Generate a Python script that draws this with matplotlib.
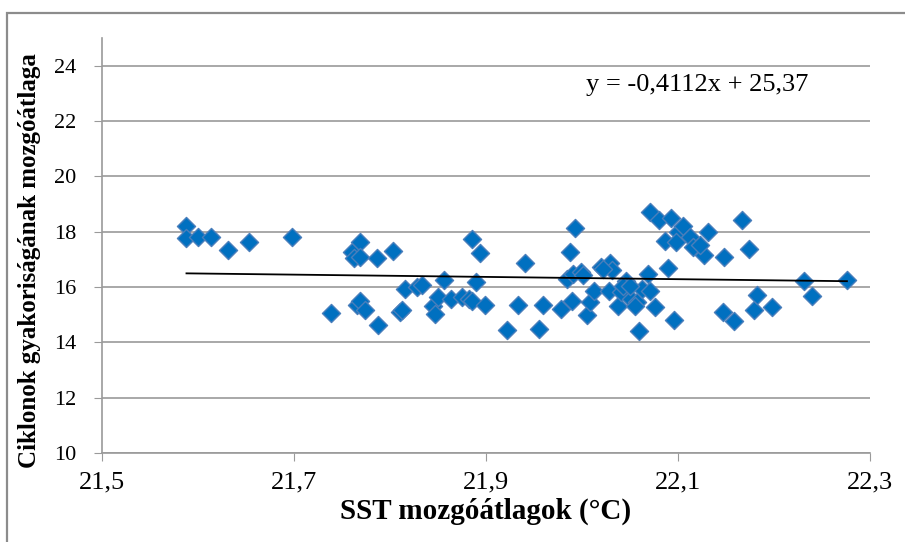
import matplotlib.pyplot as plt
from matplotlib.patches import Rectangle
from matplotlib.ticker import FuncFormatter

# SST moving averages (°C) and cyclone frequency moving averages
sst = [
    21.588, 21.588, 21.600, 21.614, 21.631, 21.653, 21.698, 21.739, 21.760, 21.762,
    21.769, 21.769, 21.786, 21.803, 21.766, 21.769, 21.774, 21.787, 21.810, 21.812,
    21.816, 21.828, 21.833, 21.845, 21.847, 21.850, 21.856, 21.864, 21.875, 21.882,
    21.885, 21.885, 21.894, 21.890, 21.899, 21.922, 21.933, 21.941, 21.955, 21.959,
    21.978, 21.993, 21.988, 21.984, 21.991, 21.999, 21.990, 22.005, 22.008, 22.012,
    22.020, 22.029, 22.031, 22.028, 22.038, 22.041, 22.046, 22.051, 22.057, 22.062,
    22.069, 22.071, 22.076, 22.059, 22.090, 22.096, 22.071, 22.080, 22.093, 22.086,
    22.100, 22.105, 22.098, 22.113, 22.116, 22.127, 22.123, 22.131, 22.148, 22.167,
    22.174, 22.147, 22.158, 22.179, 22.182, 22.198, 22.231, 22.240, 22.276, 22.043,
    22.050, 22.055, 22.001, 22.022,
]
cyclones = [
    18.21, 17.78, 17.81, 17.81, 17.35, 17.63, 17.81, 15.06, 17.26, 17.04,
    17.64, 17.08, 17.04, 17.31, 15.35, 15.50, 15.16, 14.64, 15.08, 15.18,
    15.93, 15.99, 16.09, 15.33, 15.04, 15.63, 16.24, 15.56, 15.63, 15.56,
    15.50, 17.72, 17.24, 16.17, 15.36, 14.46, 15.35, 16.86, 14.50, 15.35,
    15.20, 18.13, 17.27, 16.29, 16.47, 16.53, 15.50, 14.98, 15.44, 15.87,
    16.72, 16.86, 16.60, 15.87, 15.33, 15.81, 16.23, 15.56, 15.44, 15.93,
    16.47, 15.87, 15.26, 14.41, 16.70, 14.82, 18.72, 18.41, 18.50, 17.68,
    17.99, 18.22, 17.64, 17.81, 17.44, 17.17, 17.50, 17.99, 17.09, 18.41,
    17.36, 15.08, 14.78, 15.17, 15.72, 15.26, 16.23, 15.69, 16.25, 16.05,
    16.03, 15.33, 16.44, 16.65,
]

# linear trendline coefficients
slope = -0.4112
intercept = 25.37

x_ticks = [21.5, 21.7, 21.9, 22.1, 22.3]
y_ticks = [10, 12, 14, 16, 18, 20, 22, 24]

plt.rcParams["font.family"] = ["Liberation Serif", "DejaVu Serif"]
grid_col = "#9a9a9a"

fig = plt.figure(figsize=(9.05, 5.42), dpi=100)
ax = fig.add_axes([0.1127, 0.1642, 0.8486, 0.7657])

# chart border (top and left edges visible)
fig.patches.append(Rectangle((0.0077, -0.1), 1.2, 1.076, transform=fig.transFigure,
                             fill=False, edgecolor="#8c8c8c", linewidth=1.6))

ax.scatter(sst, cyclones, marker="D", s=85, color="#0070c0",
           edgecolors="#4a7ebb", linewidths=1.0, zorder=3)

x0, x1 = min(sst), max(sst)
ax.plot([x0, x1], [slope * x0 + intercept, slope * x1 + intercept],
        color="black", linewidth=1.3, zorder=4)

ax.text(22.12, 23.3, "y = -0,4112x + 25,37", fontsize=19, ha="center", va="center")

ax.set_xlim(21.5, 22.3)
ax.set_ylim(10, 25)
ax.set_xticks(x_ticks)
ax.set_yticks(y_ticks)
comma = FuncFormatter(lambda v, p: f"{v:.1f}".replace(".", ","))
ax.xaxis.set_major_formatter(comma)
ax.tick_params(axis="x", labelsize=19, length=5.5, color=grid_col, pad=8)
ax.tick_params(axis="y", labelsize=16, length=5.5, color=grid_col, pad=13)
ax.grid(axis="y", color=grid_col, linewidth=1.2)
ax.set_axisbelow(True)
for side in ["top", "right"]:
    ax.spines[side].set_visible(False)
for side in ["left", "bottom"]:
    ax.spines[side].set_color(grid_col)
    ax.spines[side].set_linewidth(1.2)

ax.set_xlabel("SST mozgóátlagok (°C)", fontsize=21, fontweight="bold", labelpad=3)
fig.text(0.033, 1 - 261 / 542, "Ciklonok gyakoriságának mozgóátlaga", fontsize=18,
         fontweight="bold", rotation=90, ha="center", va="center")

fig.savefig("out.png", dpi=100)
